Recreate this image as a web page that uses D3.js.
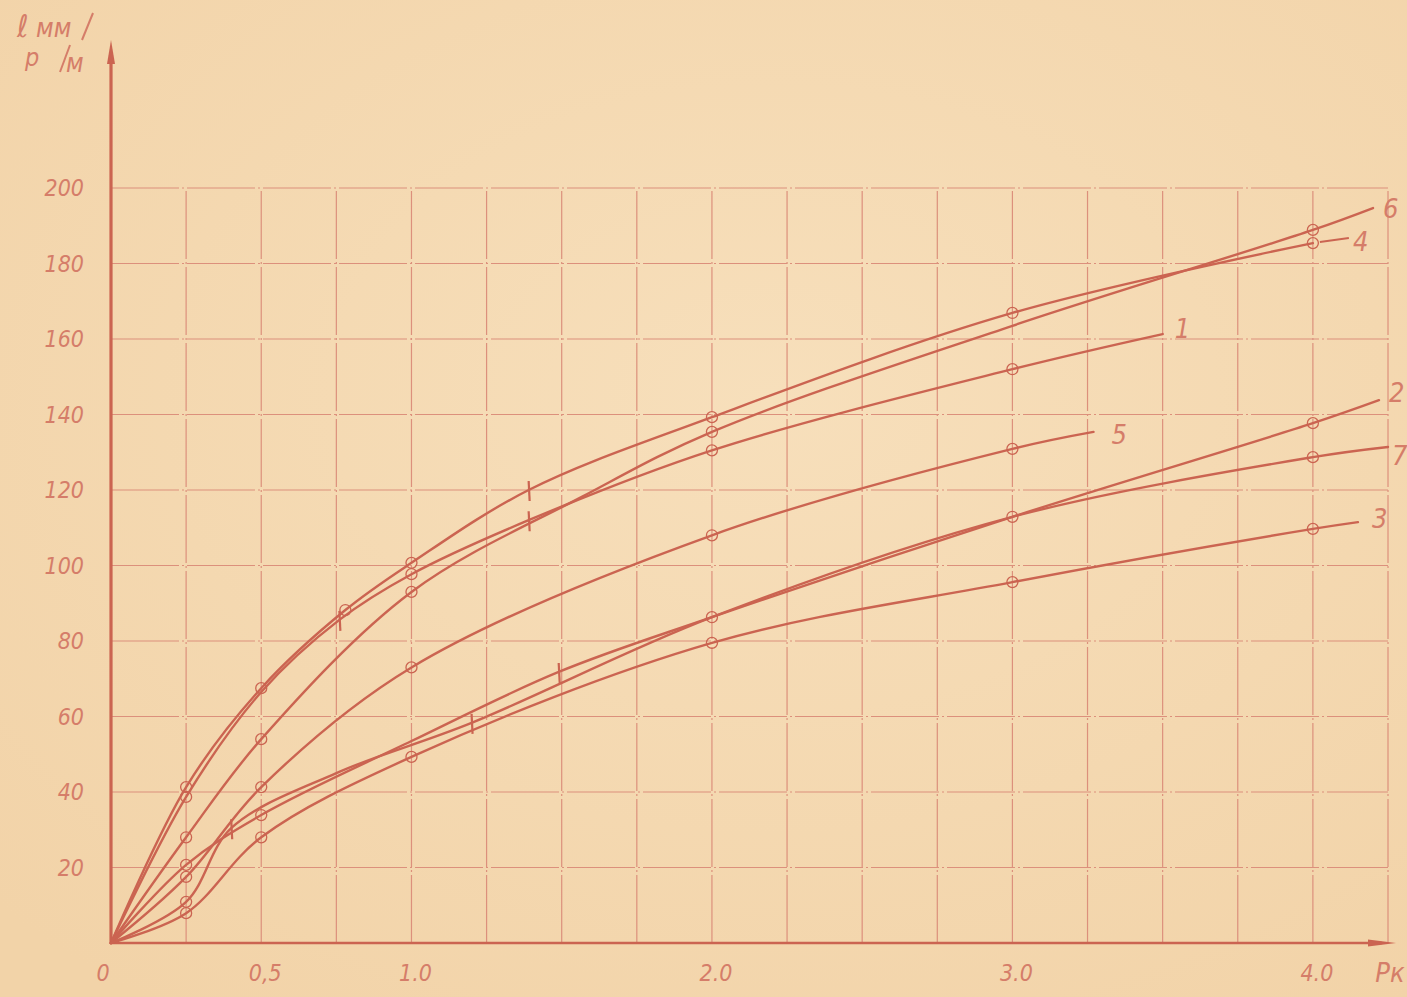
<!DOCTYPE html>
<html>
<head>
<meta charset="utf-8">
<script src="https://cdn.jsdelivr.net/npm/d3@7/dist/d3.min.js"></script>
<style>
  html, body { margin: 0; padding: 0; background: #f4dab3; }
  svg { display: block; }
  text { font-family: "DejaVu Sans Condensed", "DejaVu Sans", sans-serif; font-style: italic; }
</style>
</head>
<body>
<svg id="chart" width="1407" height="997"></svg>
<script>
// ---- data: elongation per metre vs. load, seven test series ----
// each point: [load, elongation, marker]  marker: "o" circle, "t" tick, "" none
const series1 = [[0,0,""],[0.25,38.7,"o"],[0.5,66.5,""],[0.76,85.6,"t"],[1.0,97.7,"o"],[1.39,112,"t"],[2.0,130.5,"o"],[3.0,152,"o"],[3.5,161.3,""]];
const series2 = [[0,0,""],[0.25,20.7,"o"],[0.5,33.9,"o"],[1.0,53.5,""],[1.49,71.8,"t"],[2.0,86.3,"o"],[3.0,112.9,"o"],[4.0,137.7,"o"],[4.22,143.8,""]];
const series3 = [[0,0,""],[0.25,7.9,"o"],[0.5,28,"o"],[1.0,49.3,"o"],[2.0,79.5,"o"],[3.0,95.6,"o"],[4.0,109.7,"o"],[4.15,111.5,""]];
const series4 = [[0,0,""],[0.25,41.3,"o"],[0.5,67.5,"o"],[0.78,88.2,"o"],[1.0,100.7,"o"],[1.39,120,"t"],[2.0,139.3,"o"],[3.0,166.9,"o"],[4.0,185.4,"o"]];
const series5 = [[0,0,""],[0.25,17.5,"o"],[0.5,41.3,"o"],[1.0,73,"o"],[2.0,108,"o"],[3.0,130.9,"o"],[3.27,135.4,""]];
const series6 = [[0,0,""],[0.25,28,"o"],[0.5,54,"o"],[1.0,93,"o"],[1.57,118.3,""],[2.0,135.4,"o"],[3.0,163.5,""],[4.0,188.9,"o"],[4.2,194.7,""]];
const series7 = [[0,0,""],[0.25,10.9,"o"],[0.4,30.4,"t"],[0.75,45,""],[1.2,58.3,"t"],[2.0,86.3,""],[3.0,112.9,""],[4.0,128.7,"o"],[4.25,131.4,""]];

const seriesNames = ["1","2","3","4","5","6","7"];
const seriesData = [series1, series2, series3, series4, series5, series6, series7];

const xTicks = [0, 0.5, 1.0, 2.0, 3.0, 4.0];
const xTickLabels = ["0", "0,5", "1.0", "2.0", "3.0", "4.0"];
const yTicks = [20, 40, 60, 80, 100, 120, 140, 160, 180, 200];
const xGridStep = 0.25;
const xMax = 4.25;
const yMax = 200;

// ---- drawing ----
const svg = d3.select("#chart");
const ink = "#cb6451";
const gridInk = "#dc907c";
const textInk = "#d57d69";

// paper background with a soft uneven tone
const defs = svg.append("defs");
const bg = defs.append("radialGradient").attr("id", "paper").attr("cx", "55%").attr("cy", "40%").attr("r", "75%");
bg.append("stop").attr("offset", "0%").attr("stop-color", "#f7dfbb");
bg.append("stop").attr("offset", "100%").attr("stop-color", "#f2d3a8");
svg.append("rect").attr("width", 1407).attr("height", 997).attr("fill", "url(#paper)");

const x = d3.scaleLinear().domain([0, xMax]).range([111, 1388]);
const y = d3.scaleLinear().domain([0, yMax]).range([943, 188]);

// grid
const grid = svg.append("g").attr("stroke", gridInk).attr("stroke-width", 1.2).attr("fill", "none")
  .attr("stroke-dasharray", "68,3,2,3");
d3.range(xGridStep, xMax + 1e-9, xGridStep).forEach(v => {
  grid.append("line").attr("x1", x(v)).attr("x2", x(v)).attr("y1", y(0)).attr("y2", y(yMax));
});
yTicks.forEach(v => {
  grid.append("line").attr("x1", x(0)).attr("x2", x(xMax)).attr("y1", y(v)).attr("y2", y(v));
});

// axes with arrows
const axes = svg.append("g").attr("stroke", ink).attr("fill", ink);
axes.append("line").attr("x1", x(0)).attr("x2", x(0)).attr("y1", y(0) + 1).attr("y2", 52)
  .attr("stroke-width", 3.2);
axes.append("path").attr("d", `M${x(0)},40 L${x(0) - 4},64 L${x(0) + 4},64 Z`).attr("stroke", "none");
axes.append("line").attr("x1", x(0) - 1).attr("x2", 1382).attr("y1", y(0)).attr("y2", y(0))
  .attr("stroke-width", 2.6);
axes.append("path").attr("d", `M1396,${y(0)} L1368,${y(0) - 3.5} L1368,${y(0) + 3.5} Z`).attr("stroke", "none");

// tick labels
const labels = svg.append("g").attr("fill", textInk).attr("font-size", 23);
yTicks.forEach(v => {
  labels.append("text").attr("x", 84).attr("y", y(v) + 8).attr("text-anchor", "end").text(v);
});
xTicks.forEach((v, i) => {
  labels.append("text").attr("x", x(v) + (i === 0 ? -8 : 4)).attr("y", 981).attr("text-anchor", "middle").text(xTickLabels[i]);
});
labels.append("text").attr("x", 1390).attr("y", 982).attr("text-anchor", "middle").attr("font-size", 27).text("Pк");

// y-axis unit label
const unit = svg.append("g").attr("fill", textInk);
unit.append("text").attr("x", 17).attr("y", 37).attr("font-size", 31).text("ℓ");
unit.append("text").attr("x", 36).attr("y", 37).attr("font-size", 26).text("мм");
unit.append("text").attr("x", 25).attr("y", 66).attr("font-size", 25).text("p");
unit.append("text").attr("x", 66).attr("y", 72).attr("font-size", 26).text("м");
unit.append("line").attr("x1", 82).attr("y1", 40).attr("x2", 93).attr("y2", 13)
  .attr("stroke", textInk).attr("stroke-width", 2);
unit.append("line").attr("x1", 60).attr("y1", 72).attr("x2", 70).attr("y2", 45)
  .attr("stroke", textInk).attr("stroke-width", 2);

// curves
const line = d3.line().x(d => x(d[0])).y(d => y(d[1])).curve(d3.curveCatmullRom.alpha(0.5));
const curves = svg.append("g").attr("fill", "none").attr("stroke", ink).attr("stroke-width", 2.4)
  .attr("stroke-linecap", "round");
seriesData.forEach(s => curves.append("path").attr("d", line(s)));

// point markers
const marks = svg.append("g").attr("stroke", ink).attr("fill", "none");
seriesData.forEach(s => {
  s.forEach(d => {
    if (d[2] === "o") {
      marks.append("circle").attr("cx", x(d[0])).attr("cy", y(d[1])).attr("r", 5.5).attr("stroke-width", 1.3);
    } else if (d[2] === "t") {
      marks.append("line").attr("x1", x(d[0])).attr("x2", x(d[0]) + 1)
        .attr("y1", y(d[1]) - 9).attr("y2", y(d[1]) + 11).attr("stroke-width", 2.2);
    }
  });
});

// curve number labels at line ends
const endLabel = svg.append("g").attr("fill", textInk).attr("font-size", 27);
const labelOffset = { "1": [12, 4], "2": [10, 2], "3": [14, 6], "4": [40, 8], "5": [18, 12], "6": [10, 10], "7": [4, 18] };
seriesData.forEach((s, i) => {
  const last = s[s.length - 1];
  const name = seriesNames[i];
  const off = labelOffset[name];
  endLabel.append("text").attr("x", x(last[0]) + off[0]).attr("y", y(last[1]) + off[1]).text(name);
});
// short leader from the last point of series 4 to its label
svg.append("line").attr("x1", x(series4[series4.length - 1][0]) + 7).attr("y1", y(series4[series4.length - 1][1]) - 1)
  .attr("x2", x(series4[series4.length - 1][0]) + 36).attr("y2", y(series4[series4.length - 1][1]) - 5)
  .attr("stroke", ink).attr("stroke-width", 2);
</script>
</body>
</html>
